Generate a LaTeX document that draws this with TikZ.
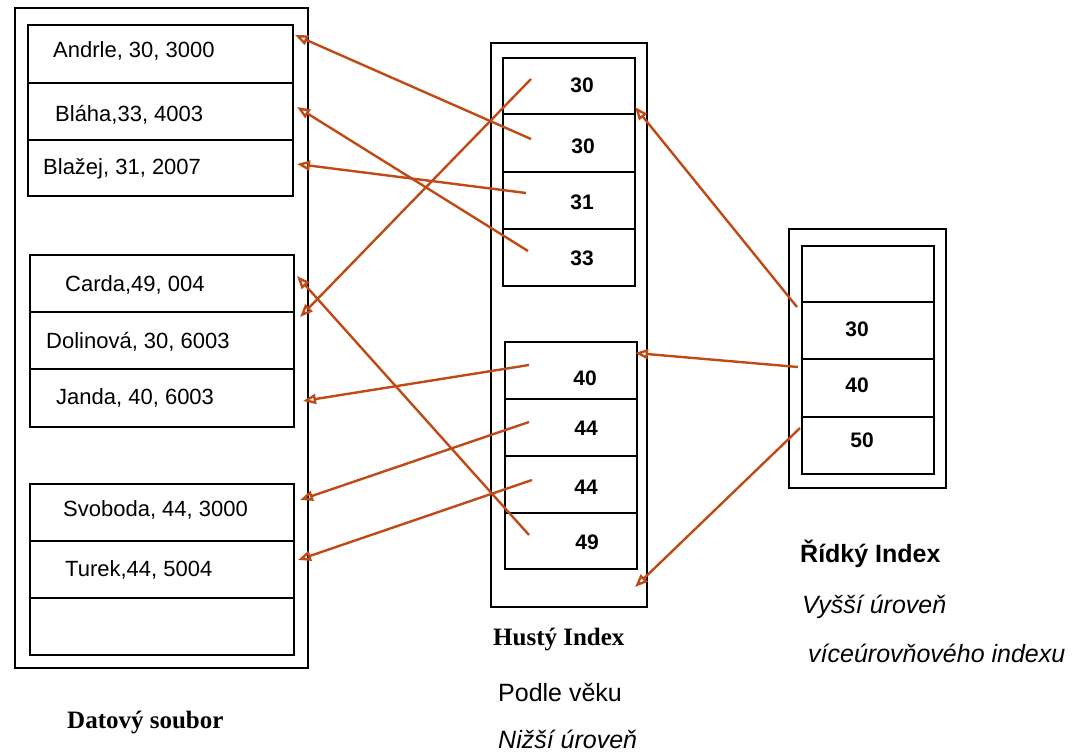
\documentclass[tikz,border=0pt]{standalone}
\usepackage{fontspec}
\setmainfont{Liberation Serif}
\setsansfont{Liberation Sans}
\usetikzlibrary{arrows.meta,calc}
\definecolor{ptr}{RGB}{192,74,22}
\begin{document}
\begin{tikzpicture}[x=1pt,y=-1pt,
  box/.style={draw, line width=2.4pt, inner sep=0pt, outer sep=0pt},
  drow/.style={box, minimum width=264pt},
  irow/.style={box, minimum width=132pt},
  rec/.style={font=\sffamily\fontsize{22}{26}\selectfont, inner sep=0pt, anchor=west},
  key/.style={font=\sffamily\bfseries\fontsize{21}{25}\selectfont, inner sep=0pt},
  caption/.style={font=\bfseries\fontsize{25}{30}\selectfont, inner sep=0pt, anchor=base west},
  note/.style={font=\sffamily\fontsize{25}{30}\selectfont, inner sep=0pt, anchor=base west},
  ptrarrow/.style={draw=ptr, line width=2.4pt, -{Triangle[open, length=13pt, width=10pt]}}
]
\useasboundingbox (0,0) rectangle (1073,752);

% ---- data file ----
\node[box, minimum width=293pt, minimum height=660pt] (file) at (161.5,338) {};
\node[drow, minimum width=265pt, minimum height=58pt] (a1) at (160.5,54) {};
\node[drow, minimum width=265pt, minimum height=57pt] (a2) at (160.5,111.5) {};
\node[drow, minimum width=265pt, minimum height=56pt] (a3) at (160.5,168) {};
\node[drow, minimum height=57pt] (b1) at (162,283.5) {};
\node[drow, minimum height=57pt] (b2) at (162,340.5) {};
\node[drow, minimum height=58pt] (b3) at (162,398) {};
\node[drow, minimum height=57pt] (c1) at (162,512.5) {};
\node[drow, minimum height=57pt] (c2) at (162,569.5) {};
\node[drow, minimum height=57pt] (c3) at (162,626.5) {};

\node[rec] (ra1) at (53,51)  {Andrle, 30, 3000};
\node[rec] (ra2) at (55,115) {Bláha,33, 4003};
\node[rec] (ra3) at (43,169) {Blažej, 31, 2007};
\node[rec] (rb1) at (65,285) {Carda,49, 004};
\node[rec] (rb2) at (46,342) {Dolinová, 30, 6003};
\node[rec] (rb3) at (56,398) {Janda, 40, 6003};
\node[rec] (rc1) at (63,510) {Svoboda, 44, 3000};
\node[rec] (rc2) at (65,570) {Turek,44, 5004};

% ---- dense index ----
\node[box, minimum width=156pt, minimum height=564pt] (dense) at (569,325) {};
\node[irow, minimum height=56pt] (i1) at (569,86)    {};
\node[irow, minimum height=58pt] (i2) at (569,143)   {};
\node[irow, minimum height=57pt] (i3) at (569,200.5) {};
\node[irow, minimum height=57pt] (i4) at (569,257.5) {};
\node[irow, minimum height=57pt] (j1) at (571,370.5) {};
\node[irow, minimum height=57pt] (j2) at (571,427.5) {};
\node[irow, minimum height=57pt] (j3) at (571,484.5) {};
\node[irow, minimum height=56pt] (j4) at (571,541)   {};

\node[key] (ki1) at (582,85)  {30};
\node[key] (ki2) at (583,146) {30};
\node[key] (ki3) at (582,202) {31};
\node[key] (ki4) at (582,258) {33};
\node[key] (kj1) at (585,378) {40};
\node[key] (kj2) at (586,428) {44};
\node[key] (kj3) at (586,487) {44};
\node[key] (kj4) at (587,542) {49};

% ---- sparse index ----
\node[box, minimum width=157pt, minimum height=259pt] (sparse) at (867.5,358.5) {};
\node[irow, minimum height=56pt] (s1) at (868,274)   {};
\node[irow, minimum height=57pt] (s2) at (868,330.5) {};
\node[irow, minimum height=58pt] (s3) at (868,388)   {};
\node[irow, minimum height=57pt] (s4) at (868,445.5) {};

\node[key] (ks2) at (857,329) {30};
\node[key] (ks3) at (857,385) {40};
\node[key] (ks4) at (862,440) {50};

% ---- captions ----
\node[caption] (lfile)  at (67,728)  {Datový soubor};
\node[caption] (ldense) at (493,645) {Hustý Index};
\node[note] (lby)    at (498,701) {Podle věku};
\node[note, font=\sffamily\itshape\fontsize{25}{30}\selectfont] (llow) at (498,748) {Nižší úroveň};
\node[note, font=\sffamily\bfseries\fontsize{25}{30}\selectfont] (lsparse) at (800,562) {Řídký Index};
\node[note, font=\sffamily\itshape\fontsize{25}{30}\selectfont] (lhigh) at (802,613) {Vyšší úroveň};
\node[note, font=\sffamily\itshape\fontsize{25}{30}\selectfont] (lmulti) at (808,662) {víceúrovňového indexu};

% ---- pointer ends ----
\coordinate (pi1) at ($(i1.west)+(28,-7)$);
\coordinate (pi2) at ($(i2.west)+(28,-4)$);
\coordinate (pi3) at ($(i3.west)+(23,-7.5)$);
\coordinate (pi4) at ($(i4.west)+(25,-6.5)$);
\coordinate (pj1) at ($(j1.west)+(24,-5.5)$);
\coordinate (pj2) at ($(j2.west)+(24,-5.5)$);
\coordinate (pj3) at ($(j3.west)+(27,-4.5)$);
\coordinate (pj4) at ($(j4.west)+(24,-6)$);
\coordinate (ps2) at ($(s2.west)+(-5,-23.5)$);
\coordinate (ps3) at ($(s3.west)+(-4,-21)$);
\coordinate (ps4) at ($(s4.west)+(-2,-17.5)$);

\coordinate (ta1) at ($(a1.north east)+(2,10)$);
\coordinate (ta2) at ($(a2.east)+(4,-4.5)$);
\coordinate (ta3) at ($(a3.east)+(4,-4)$);
\coordinate (tb1) at ($(b1.east)+(3,-7.5)$);
\coordinate (tb2) at ($(b2.north east)+(6,5)$);
\coordinate (tb3) at ($(b3.east)+(9,3)$);
\coordinate (tc1) at ($(c1.east)+(6,-12.5)$);
\coordinate (tc2) at ($(c2.east)+(4,-9.5)$);
\coordinate (ti2) at ($(i2.north east)+(0,-7)$);
\coordinate (tj1) at ($(j1.north east)+(-2,11)$);
\coordinate (tj4) at ($(j4.south east)+(-2,18)$);

% ---- pointers ----
\draw[ptrarrow] (pi2) -- (ta1);
\draw[ptrarrow] (pi4) -- (ta2);
\draw[ptrarrow] (pi3) -- (ta3);
\draw[ptrarrow] (pi1) -- (tb2);
\draw[ptrarrow] (pj4) -- (tb1);
\draw[ptrarrow] (pj1) -- (tb3);
\draw[ptrarrow] (pj2) -- (tc1);
\draw[ptrarrow] (pj3) -- (tc2);
\draw[ptrarrow] (ps2) -- (ti2);
\draw[ptrarrow] (ps3) -- (tj1);
\draw[ptrarrow] (ps4) -- (tj4);
\end{tikzpicture}
\end{document}
